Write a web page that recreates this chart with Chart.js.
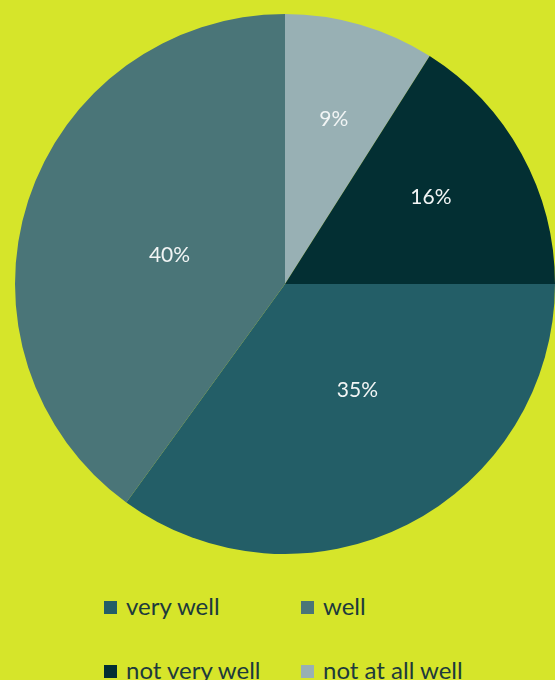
<!DOCTYPE html>
<html>
<head>
<meta charset="utf-8">
<script src="https://cdn.jsdelivr.net/npm/chart.js@4/dist/chart.umd.min.js"></script>
<style>
    html, body { margin: 0; padding: 0; background: #d6e52a; }
    .wrap { position: relative; width: 555px; height: 680px; overflow: hidden; }
    #pie { position: absolute; left: 0; top: 0; }
    .legend-item { position: absolute; font-family: Lato, "Noto Sans", sans-serif; font-size: 24px; color: #1d3a3c; line-height: 1; white-space: nowrap; }
    .legend-item .box { position: absolute; left: 0; width: 13px; height: 13px; }
    .legend-item .txt { position: absolute; left: 22px; }
</style>
</head>
<body>
<div class="wrap">
    <canvas id="pie" width="555" height="560"></canvas>
    <div id="legend"></div>
</div>
<script>
// 切片按绘制顺序（从12点钟方向顺时针）
const categories = ['not at all well', 'not very well', 'very well', 'well'];
const shares = [9, 16, 35, 40];
const sliceColors = ['#98b0b4', '#032f33', '#235e67', '#4a7578'];

// 图例显示顺序
const legendOrder = ['very well', 'well', 'not very well', 'not at all well'];

// 百分比标签位置：半径比例与相对扇区中线的角度偏移（度）
const labelRadius = [0.637, 0.628, 0.477, 0.441];
const labelAngleShift = [0.3, -1.8, -7.2, -3.9];

const sliceLabels = {
    id: 'sliceLabels',
    afterDatasetsDraw(chart) {
        const { ctx } = chart;
        const arcs = chart.getDatasetMeta(0).data;
        ctx.save();
        ctx.fillStyle = '#f2f5f5';
        ctx.font = '21px Lato, "Noto Sans", sans-serif';
        ctx.textAlign = 'center';
        ctx.textBaseline = 'middle';
        arcs.forEach((arc, i) => {
            const { x, y, startAngle, endAngle, outerRadius } = arc.getProps(['x', 'y', 'startAngle', 'endAngle', 'outerRadius'], true);
            const mid = (startAngle + endAngle) / 2 + labelAngleShift[i] * Math.PI / 180;
            const r = outerRadius * labelRadius[i];
            ctx.fillText(shares[i] + '%', x + Math.cos(mid) * r, y + Math.sin(mid) * r);
        });
        ctx.restore();
    }
};

new Chart(document.getElementById('pie'), {
    type: 'pie',
    data: {
        labels: categories,
        datasets: [{
            data: shares,
            backgroundColor: sliceColors,
            borderWidth: 0
        }]
    },
    options: {
        responsive: false,
        animation: false,
        layout: { padding: { left: 15, right: 0, top: 14, bottom: 6 } },
        plugins: {
            legend: { display: false },
            tooltip: { enabled: false }
        }
    },
    plugins: [sliceLabels]
});

// 两列图例
function buildLegend() {
    const legend = document.getElementById('legend');
    const cols = [104, 301];
    const rows = [601, 665];
    legendOrder.forEach((name, i) => {
        const item = document.createElement('div');
        item.className = 'legend-item';
        item.style.left = cols[i % 2] + 'px';
        item.style.top = rows[Math.floor(i / 2)] + 'px';
        const box = document.createElement('span');
        box.className = 'box';
        box.style.background = sliceColors[categories.indexOf(name)];
        const txt = document.createElement('span');
        txt.className = 'txt';
        txt.style.top = '-7px';
        txt.textContent = name;
        item.appendChild(box);
        item.appendChild(txt);
        legend.appendChild(item);
    });
}
buildLegend();
</script>
</body>
</html>
